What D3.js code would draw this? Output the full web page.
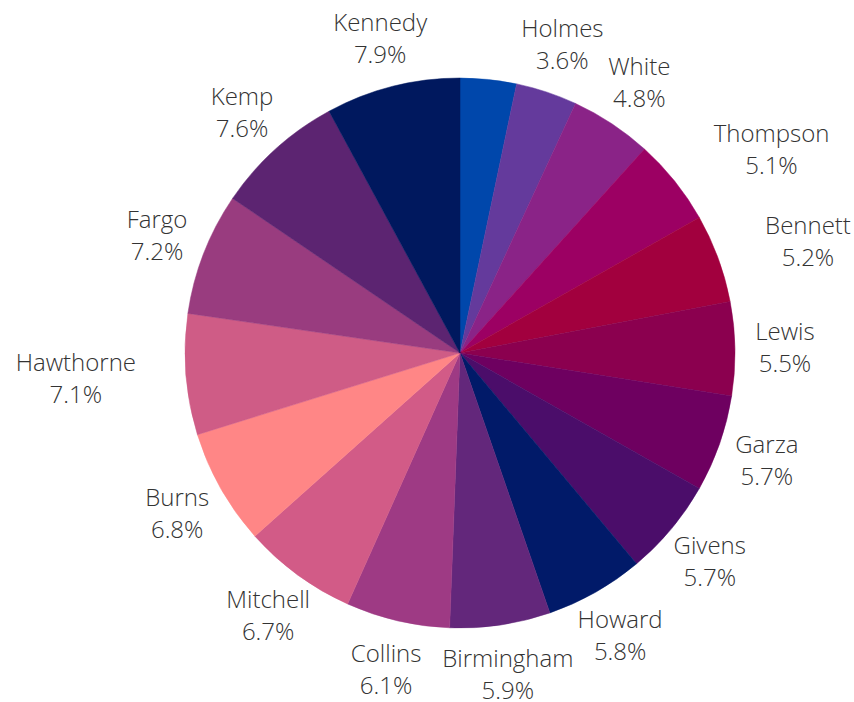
<!DOCTYPE html>
<html>
<head>
<meta charset="utf-8">
<script src="https://cdn.jsdelivr.net/npm/d3@7"></script>
<style>
  html, body { margin: 0; padding: 0; background: #fff; }
  svg { display: block; }
  text { font-family: "Open Sans", "Noto Sans", sans-serif; }
</style>
</head>
<body>
<svg id="chart" width="854" height="702"></svg>
<script>
// ---- data ----
const categories = ["", "Holmes", "White", "Thompson", "Bennett", "Lewis", "Garza", "Givens",
  "Howard", "Birmingham", "Collins", "Mitchell", "Burns", "Hawthorne", "Fargo", "Kemp", "Kennedy"];
const values = [3.3, 3.6, 4.8, 5.1, 5.2, 5.5, 5.7, 5.7, 5.8, 5.9, 6.1, 6.7, 6.8, 7.1, 7.2, 7.6, 7.9];
const colors = ["#0047ab", "#643a9c", "#8a2387", "#9c0063", "#a2003e", "#8b004f", "#6e0060", "#4b0d6a",
  "#011a69", "#63277b", "#9e3a84", "#d25b87", "#ff8686", "#cf5c86", "#993c7f", "#5c2471", "#00185e"];

// ---- layout ----
const cx = 460, cy = 353, R = 275, labelR = 325, pad = 5;
const fs = 24, lineGap = 32, capH = 0.714 * fs;

const svg = d3.select("#chart");
const g = svg.append("g").attr("transform", `translate(${cx},${cy})`);

const data = categories.map((c, i) => ({ name: c, value: values[i], color: colors[i] }));
const total = d3.sum(values);
const pie = d3.pie().value(d => d.value).sort(null);
const arcs = pie(data);
const arc = d3.arc().innerRadius(0).outerRadius(R);
const labelArc = d3.arc().innerRadius(labelR).outerRadius(labelR);

g.selectAll("path.slice")
  .data(arcs)
  .join("path")
  .attr("class", "slice")
  .attr("d", arc)
  .attr("fill", d => d.data.color)
  .attr("stroke", d => d.data.color)
  .attr("stroke-width", 0.5);

const fmt = d3.format(".1f");
const labels = g.selectAll("g.label")
  .data(arcs.filter(d => d.data.name))
  .join("g")
  .attr("class", "label")
  .attr("transform", d => `translate(${labelArc.centroid(d)})`);

const txt = labels.append("text")
  .attr("text-anchor", "middle")
  .attr("fill", "#333")
  .style("font-size", fs + "px")
  .style("font-weight", 300);
const first = -lineGap / 2 + capH / 2;
txt.append("tspan").attr("x", 0).attr("y", first).text(d => d.data.name);
txt.append("tspan").attr("x", 0).attr("y", first + lineGap)
  .text(d => fmt(d.value / total * 100) + "%");

// labels whose text block would come too close to the pie are anchored at their inner edge
labels.each(function(d) {
  const [lx, ly] = labelArc.centroid(d);
  const w = d3.max(d3.select(this).selectAll("tspan").nodes(), n => n.getComputedTextLength());
  const x0 = lx - w / 2, x1 = lx + w / 2;
  const y0 = ly + first - capH, y1 = ly + first + lineGap;
  const px = Math.max(x0, Math.min(0, x1)), py = Math.max(y0, Math.min(0, y1));
  if (Math.hypot(px, py) < R + pad) {
    const shift = lx >= 0 ? w / 2 : -w / 2;
    d3.select(this).attr("transform", `translate(${lx + shift},${ly})`);
  }
});
</script>
</body>
</html>
